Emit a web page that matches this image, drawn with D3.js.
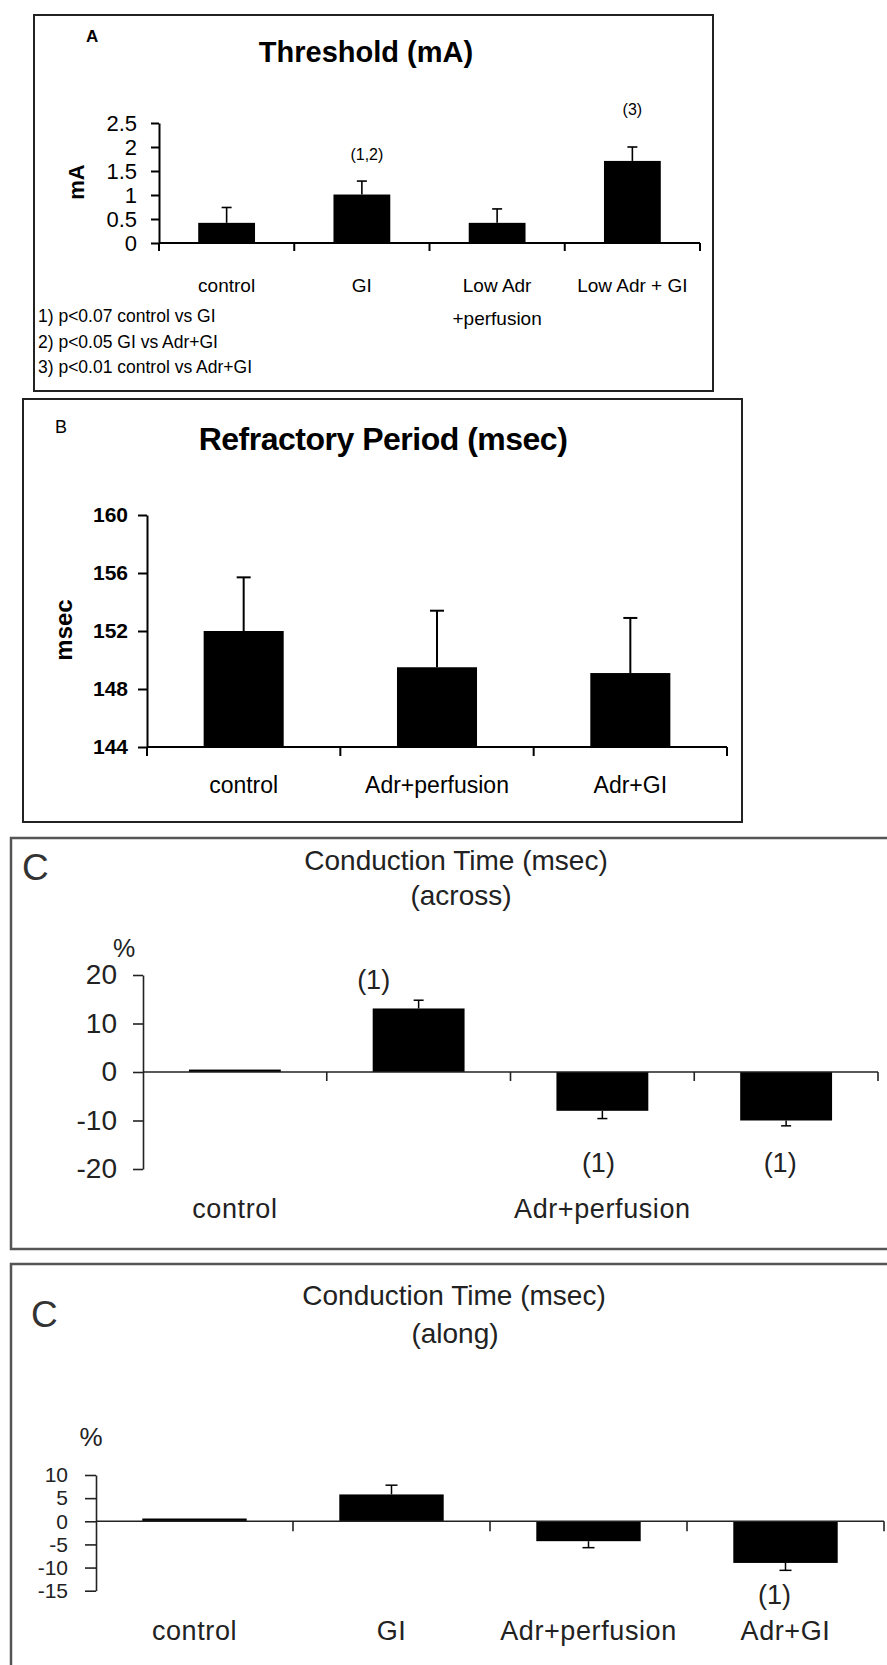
<!DOCTYPE html>
<html><head><meta charset="utf-8">
<script src="https://cdn.jsdelivr.net/npm/d3@7"></script>
<style>
html,body{margin:0;padding:0;background:#fff;}
svg{display:block;}
text{font-family:"Liberation Sans",Arial,sans-serif;}
</style>
</head><body>
<svg id="chart" width="887" height="1665"></svg>
<script>
// ---------- Panel A : Threshold (mA) ----------
const thresholdCategories = ["control", "GI", "Low Adr +perfusion", "Low Adr + GI"];
const thresholdLabels = [["control"], ["GI"], ["Low Adr", "+perfusion"], ["Low Adr + GI"]];
const thresholdMeans = [0.42, 1.01, 0.42, 1.71];
const thresholdErrors = [0.32, 0.28, 0.29, 0.29];
const thresholdTicks = [0, 0.5, 1, 1.5, 2, 2.5];
const thresholdNotes = ["", "(1,2)", "", "(3)"];
const thresholdFootnotes = ["1) p<0.07 control vs GI", "2) p<0.05 GI vs Adr+GI", "3) p<0.01 control vs Adr+GI"];

// ---------- Panel B : Refractory Period (msec) ----------
const refractoryCategories = ["control", "Adr+perfusion", "Adr+GI"];
const refractoryLabels = [["control"], ["Adr+perfusion"], ["Adr+GI"]];
const refractoryMeans = [152.0, 149.5, 149.1];
const refractoryErrors = [3.7, 3.9, 3.8];
const refractoryTicks = [144, 148, 152, 156, 160];

// ---------- Panel C : Conduction Time (across) ----------
const acrossCategories = ["control", "GI", "Adr+perfusion", "Adr+GI"];
const acrossLabels = [["control"], [], ["Adr+perfusion"], []];
const acrossMeans = [0.5, 13.1, -8.0, -10.0];
const acrossErrors = [0, 1.7, 1.6, 1.1];
const acrossTicks = [-20, -10, 0, 10, 20];
const acrossNotes = ["", "(1)", "(1)", "(1)"];

// ---------- Panel C : Conduction Time (along) ----------
const alongCategories = ["control", "GI", "Adr+perfusion", "Adr+GI"];
const alongLabels = [["control"], ["GI"], ["Adr+perfusion"], ["Adr+GI"]];
const alongMeans = [0.6, 5.8, -4.3, -9.0];
const alongErrors = [0, 2.0, 1.4, 1.6];
const alongTicks = [-15, -10, -5, 0, 5, 10];
const alongNotes = ["", "", "", "(1)"];

const svg = d3.select("#chart");
svg.append("rect").attr("width", 887).attr("height", 1665).attr("fill", "#fff");

function drawPanel(cfg) {
  const g = svg.append("g");
  // frame
  g.append("rect").attr("x", cfg.box[0]).attr("y", cfg.box[1])
    .attr("width", cfg.box[2]).attr("height", cfg.box[3])
    .attr("fill", "none").attr("stroke", cfg.boxColor).attr("stroke-width", cfg.boxWidth);

  const x = d3.scaleBand().domain(cfg.keys).range(cfg.xRange).paddingInner(0).paddingOuter(0);
  const y = d3.scaleLinear().domain(cfg.yDomain).range(cfg.yRange);
  const base = cfg.base;
  const bw = x.bandwidth() * cfg.barFrac;
  const cx = (i) => x(cfg.keys[i]) + x.bandwidth() / 2;

  // bars
  g.append("g").selectAll("rect").data(cfg.means).join("rect")
    .attr("x", (d, i) => cx(i) - bw / 2)
    .attr("y", d => y(Math.max(d, base)))
    .attr("width", bw)
    .attr("height", d => Math.max(Math.abs(y(d) - y(base)), 1.5))
    .attr("fill", "#000");

  // error bars
  const eb = g.append("g").attr("stroke", "#000").attr("stroke-width", cfg.errWidth);
  cfg.means.forEach((m, i) => {
    const e = cfg.errors[i];
    if (!e) return;
    const end = m >= base ? m + e : m - e;
    eb.append("line").attr("x1", cx(i)).attr("x2", cx(i)).attr("y1", y(m)).attr("y2", y(end));
    eb.append("line").attr("x1", cx(i) - cfg.cap / 2).attr("x2", cx(i) + cfg.cap / 2)
      .attr("y1", y(end)).attr("y2", y(end));
  });

  // y axis
  const yAxis = d3.axisLeft(y).tickValues(cfg.ticks).tickSizeInner(cfg.tickSize).tickSizeOuter(0)
    .tickPadding(cfg.tickPad).tickFormat(d => String(d));
  const ya = g.append("g").attr("transform", `translate(${cfg.xRange[0]},0)`).call(yAxis);
  ya.select(".domain").attr("stroke", cfg.axisColor).attr("stroke-width", cfg.axisWidth);
  ya.selectAll(".tick line").attr("stroke", cfg.axisColor).attr("stroke-width", cfg.axisWidth);
  ya.selectAll(".tick text").attr("font-size", cfg.tickFont).attr("font-weight", cfg.tickWeight)
    .attr("fill", cfg.textColor).attr("font-family", '"Liberation Sans",Arial,sans-serif');

  // x axis line at base
  const y0 = y(base);
  g.append("line").attr("x1", cfg.xRange[0]).attr("x2", cfg.xRange[1]).attr("y1", y0).attr("y2", y0)
    .attr("stroke", cfg.axisColor).attr("stroke-width", cfg.axisWidth);
  const bounds = cfg.keys.map(k => x(k)).concat([cfg.xRange[1]]);
  g.append("g").selectAll("line").data(bounds.slice(cfg.firstTick ? 0 : 1)).join("line")
    .attr("x1", d => d).attr("x2", d => d).attr("y1", y0).attr("y2", y0 + cfg.xTick)
    .attr("stroke", cfg.axisColor).attr("stroke-width", cfg.axisWidth);

  // category labels
  cfg.labels.forEach((lines, i) => {
    lines.forEach((t, j) => {
      g.append("text").attr("x", cx(i) + (cfg.labelDx ? cfg.labelDx[i] : 0))
        .attr("y", cfg.labelY + j * cfg.labelLine)
        .attr("text-anchor", "middle").attr("font-size", cfg.labelFont)
        .attr("letter-spacing", cfg.labelSpacing || 0)
        .attr("fill", cfg.textColor).text(t);
    });
  });

  // notes
  if (cfg.notes) {
    cfg.notes.forEach((t, i) => {
      if (!t) return;
      const m = cfg.means[i], e = cfg.errors[i];
      const end = m >= base ? m + e : m - e;
      const ny = cfg.noteAbsY && cfg.noteAbsY[i] != null ? cfg.noteAbsY[i] : y(end) + cfg.noteDy[i];
      g.append("text").attr("x", cx(i) + cfg.noteDx[i]).attr("y", ny)
        .attr("text-anchor", "middle").attr("font-size", cfg.noteFont)
        .attr("fill", cfg.textColor).text(t);
    });
  }
  return { x, y, g };
}

// ---------- Panel A ----------
const pA = drawPanel({
  box: [34, 15, 679, 376], boxColor: "#222", boxWidth: 2,
  keys: thresholdCategories, labels: thresholdLabels,
  means: thresholdMeans, errors: thresholdErrors, ticks: thresholdTicks,
  xRange: [159, 700], yDomain: [0, 2.5], yRange: [243, 123], base: 0,
  barFrac: 0.42, cap: 10, errWidth: 1.6,
  tickSize: 8, tickPad: 14, tickFont: 22, tickWeight: "normal",
  axisColor: "#000", axisWidth: 2, xTick: 8, firstTick: true,
  labelY: 292, labelLine: 33, labelFont: 19, textColor: "#000",
  notes: thresholdNotes, noteDx: [0, 5, 0, 0], noteDy: [0, -21, 0, -32], noteFont: 16
});
pA.g.append("text").attr("x", 86).attr("y", 42).attr("font-size", 17).attr("font-weight", "bold").text("A");
pA.g.append("text").attr("x", 366).attr("y", 62).attr("text-anchor", "middle")
  .attr("font-size", 29).attr("font-weight", "bold").text("Threshold (mA)");
pA.g.append("text").attr("transform", "translate(76,182) rotate(-90)").attr("text-anchor", "middle")
  .attr("dominant-baseline", "central").attr("font-size", 22).attr("font-weight", "bold").text("mA");
pA.g.selectAll("text.foot").data(thresholdFootnotes).join("text").attr("class", "foot")
  .attr("x", 38).attr("y", (d, i) => 322 + i * 25.5).attr("font-size", 17.5).text(d => d);

// ---------- Panel B ----------
const pB = drawPanel({
  box: [23, 399, 719, 423], boxColor: "#222", boxWidth: 2,
  keys: refractoryCategories, labels: refractoryLabels,
  means: refractoryMeans, errors: refractoryErrors, ticks: refractoryTicks,
  xRange: [147, 727], yDomain: [144, 160], yRange: [747, 515], base: 144,
  barFrac: 0.414, cap: 14, errWidth: 2,
  tickSize: 9, tickPad: 10, tickFont: 21, tickWeight: "bold",
  axisColor: "#000", axisWidth: 2, xTick: 9, firstTick: true,
  labelY: 793, labelLine: 30, labelFont: 23, textColor: "#000"
});
pB.g.append("text").attr("x", 55).attr("y", 433).attr("font-size", 18).text("B");
pB.g.append("text").attr("x", 383).attr("y", 450).attr("text-anchor", "middle")
  .attr("font-size", 32).attr("font-weight", "bold").attr("letter-spacing", -0.5).text("Refractory Period (msec)");
pB.g.append("text").attr("transform", "translate(63,630) rotate(-90)").attr("text-anchor", "middle")
  .attr("dominant-baseline", "central").attr("font-size", 24).attr("font-weight", "bold").text("msec");

// ---------- Panel C (across) ----------
const pC1 = drawPanel({
  box: [11, 838, 900, 411], boxColor: "#555", boxWidth: 2.5,
  keys: acrossCategories, labels: acrossLabels,
  means: acrossMeans, errors: acrossErrors, ticks: acrossTicks,
  xRange: [143, 878], yDomain: [-20, 20], yRange: [1169, 975], base: 0,
  barFrac: 0.5, cap: 10, errWidth: 1.5,
  tickSize: 10, tickPad: 16, tickFont: 28, tickWeight: "normal",
  axisColor: "#222", axisWidth: 1.6, xTick: 9, firstTick: false,
  labelY: 1218, labelLine: 30, labelFont: 27, labelSpacing: 0.6, textColor: "#222",
  notes: acrossNotes, noteDx: [0, -45, -4, -6], noteDy: [0, -11, 0, 0],
  noteAbsY: [null, null, 1172, 1172], noteFont: 27
});
pC1.g.append("text").attr("x", 22).attr("y", 880).attr("font-size", 37)
  .attr("font-family", '"Liberation Serif","Times New Roman",serif').attr("fill", "#333").text("C");
pC1.g.append("text").attr("x", 456).attr("y", 870).attr("text-anchor", "middle")
  .attr("font-size", 28).attr("fill", "#222").text("Conduction Time (msec)");
pC1.g.append("text").attr("x", 461).attr("y", 905).attr("text-anchor", "middle")
  .attr("font-size", 28).attr("fill", "#222").text("(across)");
pC1.g.append("text").attr("x", 124).attr("y", 957).attr("text-anchor", "middle")
  .attr("font-size", 25).attr("fill", "#222").text("%");

// ---------- Panel C (along) ----------
const pC2 = drawPanel({
  box: [11, 1264, 900, 500], boxColor: "#555", boxWidth: 2.5,
  keys: alongCategories, labels: alongLabels,
  means: alongMeans, errors: alongErrors, ticks: alongTicks,
  xRange: [96, 884], yDomain: [-15, 10], yRange: [1590.7, 1475], base: 0,
  barFrac: 0.53, cap: 12, errWidth: 1.5,
  tickSize: 11, tickPad: 17, tickFont: 21, tickWeight: "normal",
  axisColor: "#222", axisWidth: 1.6, xTick: 10, firstTick: false,
  labelY: 1640, labelLine: 30, labelFont: 27, labelSpacing: 0.6, textColor: "#222",
  notes: alongNotes, noteDx: [0, 0, 0, -11], noteDy: [0, 0, 0, 34], noteFont: 27
});
pC2.g.append("text").attr("x", 31).attr("y", 1327).attr("font-size", 37)
  .attr("font-family", '"Liberation Serif","Times New Roman",serif').attr("fill", "#333").text("C");
pC2.g.append("text").attr("x", 454).attr("y", 1305).attr("text-anchor", "middle")
  .attr("font-size", 28).attr("fill", "#222").text("Conduction Time (msec)");
pC2.g.append("text").attr("x", 455).attr("y", 1343).attr("text-anchor", "middle")
  .attr("font-size", 28).attr("fill", "#222").text("(along)");
pC2.g.append("text").attr("x", 91).attr("y", 1446).attr("text-anchor", "middle")
  .attr("font-size", 26).attr("fill", "#222").text("%");
</script>
</body></html>
